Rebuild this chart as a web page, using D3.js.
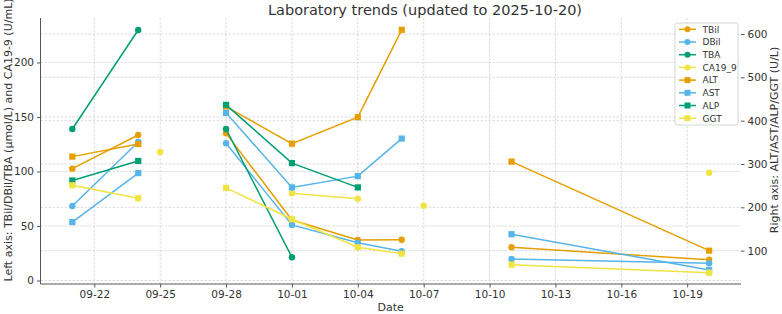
<!DOCTYPE html>
<html><head><meta charset="utf-8">
<script src="https://cdn.jsdelivr.net/npm/d3@7"></script>
<style>body{margin:0;background:#fff}svg{display:block;font-family:"DejaVu Sans",sans-serif}</style>
</head><body><svg id="c" width="782" height="314"></svg>
<script>
const dates = ["2025-09-21","2025-09-24","2025-09-25","2025-09-28","2025-10-01","2025-10-04","2025-10-06","2025-10-07","2025-10-11","2025-10-20"];
const TBil   = [102.6, 133.5, null, 135, 55.5, 37.2, 37.4, null, 30.5, 19];
const DBil   = [68.3, 127, null, 125.9, 51, 34.7, 26.9, null, 19.7, 15.8];
const TBA    = [139, 229.8, null, 139, 21.3, null, null, null, null, null];
const CA19_9 = [null, null, 117.9, null, 80, 75, null, 68.6, null, 98.9];
const ALT    = [317, 346, null, 432.5, 347, 408, 609.7, null, 305.5, 100];
const AST    = [166, 279, null, 418, 246, 272, 358.7, null, 137.8, 55.4];
const ALP    = [262, 307, null, 436.5, 302, 246, null, null, null, null];
const GGT    = [251, 221, null, 245, 172.5, 107.9, 93, null, 67.7, 49.2];
const xTickLabels = ["09-22","09-25","09-28","10-01","10-04","10-07","10-10","10-13","10-16","10-19"];
const leftTicks = [0, 50, 100, 150, 200];
const rightTicks = [100, 200, 300, 400, 500, 600];
const title = "Laboratory trends (updated to 2025-10-20)";

const colors = {orange:"#E69F00", blue:"#56B4E9", green:"#009E73", yellow:"#F0E442"};
const series = [
  {name:"TBil", vals:TBil, axis:"L", color:colors.orange, shape:"circle"},
  {name:"DBil", vals:DBil, axis:"L", color:colors.blue, shape:"circle"},
  {name:"TBA", vals:TBA, axis:"L", color:colors.green, shape:"circle"},
  {name:"CA19_9", vals:CA19_9, axis:"L", color:colors.yellow, shape:"circle"},
  {name:"ALT", vals:ALT, axis:"R", color:colors.orange, shape:"square"},
  {name:"AST", vals:AST, axis:"R", color:colors.blue, shape:"square"},
  {name:"ALP", vals:ALP, axis:"R", color:colors.green, shape:"square"},
  {name:"GGT", vals:GGT, axis:"R", color:colors.yellow, shape:"square"}
];

const parse = d3.utcParse("%Y-%m-%d");
const D = dates.map(parse);
const day = 86400000;
const L = 40.5, R = 741, T = 18, B = 284;
const x = d3.scaleUtc().domain([new Date(+D[0] - 1.45*day), new Date(+D[D.length-1] + 1.45*day)]).range([L, R]);
const yL = d3.scaleLinear().domain([-3.2, 240.8]).range([B, T]);
const yR = d3.scaleLinear().domain([23, 637]).range([B, T]);
const xTicks = xTickLabels.map(s => parse("2025-" + s));

const svg = d3.select("#c");
const txt = "#333";

// grid
const g = svg.append("g");
const gridStyle = sel => sel.attr("stroke", "#d2d2d2").attr("stroke-width", 0.8).attr("stroke-dasharray", "2.5,1.5");
g.selectAll(".vg").data(xTicks).join("line").attr("x1", d=>x(d)).attr("x2", d=>x(d)).attr("y1", T).attr("y2", B).call(gridStyle);
g.selectAll(".hl").data(leftTicks).join("line").attr("x1", L).attr("x2", R).attr("y1", d=>yL(d)).attr("y2", d=>yL(d)).call(gridStyle);
g.selectAll(".hr").data(rightTicks).join("line").attr("x1", L).attr("x2", R).attr("y1", d=>yR(d)).attr("y2", d=>yR(d)).call(gridStyle);

// axes
const fmtX = d3.utcFormat("%m-%d");
const ax = svg.append("g").attr("transform", `translate(0,${B})`)
  .call(d3.axisBottom(x).tickValues(xTicks).tickFormat(fmtX).tickSize(3.5).tickPadding(3));
const ay = svg.append("g").attr("transform", `translate(${L},0)`)
  .call(d3.axisLeft(yL).tickValues(leftTicks).tickSize(3.5).tickPadding(3));
const ar = svg.append("g").attr("transform", `translate(${R},0)`)
  .call(d3.axisRight(yR).tickValues(rightTicks).tickSize(3.5).tickPadding(3));
[ax, ay, ar].forEach(a => {
  a.selectAll("text").attr("font-size", 10.5).attr("fill", txt).attr("font-family", "DejaVu Sans");
  a.selectAll("line").attr("stroke", "#555");
  a.select(".domain").attr("stroke", "#555");
});
ax.select(".domain").attr("d", `M${L},0H${R}`);
ay.select(".domain").attr("d", `M0,${T}V${B}`);
ar.select(".domain").remove();

// series
function drawSeries(s) {
  const y = s.axis === "L" ? yL : yR;
  const pts = s.vals.map((v, i) => ({d: D[i], v}));
  const line = d3.line().defined(p => p.v != null).x(p => x(p.d)).y(p => y(p.v));
  const gs = svg.append("g");
  gs.append("path").datum(pts).attr("d", line).attr("fill", "none").attr("stroke", s.color).attr("stroke-width", 1.5);
  const pv = pts.filter(p => p.v != null);
  if (s.shape === "circle") {
    gs.selectAll("circle").data(pv).join("circle").attr("cx", p=>x(p.d)).attr("cy", p=>y(p.v)).attr("r", 3.2).attr("fill", s.color);
  } else {
    gs.selectAll("rect").data(pv).join("rect").attr("x", p=>x(p.d)-3.1).attr("y", p=>y(p.v)-3.1).attr("width", 6.2).attr("height", 6.2).attr("fill", s.color);
  }
}
series.forEach(drawSeries);

// title & labels
svg.append("text").attr("x", 425).attr("y", 14.5).attr("text-anchor", "middle").attr("font-size", 14.5).attr("fill", txt).text(title);
svg.append("text").attr("x", (L+R)/2).attr("y", 311).attr("text-anchor", "middle").attr("font-size", 11).attr("fill", txt).text("Date");
svg.append("text").attr("transform", `translate(12,140) rotate(-90)`).attr("text-anchor", "middle").attr("font-size", 11).attr("fill", txt)
  .text("Left axis: TBil/DBil/TBA (µmol/L) and CA19-9 (U/mL)");
svg.append("text").attr("transform", `translate(777.5,140) rotate(-90)`).attr("text-anchor", "middle").attr("font-size", 11).attr("fill", txt)
  .text("Right axis: ALT/AST/ALP/GGT (U/L)");

// legend
const lg = svg.append("g");
lg.append("rect").attr("x", 675).attr("y", 23).attr("width", 63).attr("height", 102).attr("rx", 2)
  .attr("fill", "#fff").attr("fill-opacity", 0.85).attr("stroke", "#ccc").attr("stroke-width", 0.8);
series.forEach((s, i) => {
  const yy = 29.3 + i*12.7;
  lg.append("line").attr("x1", 679).attr("x2", 696).attr("y1", yy).attr("y2", yy).attr("stroke", s.color).attr("stroke-width", 1.5);
  if (s.shape === "circle") lg.append("circle").attr("cx", 687.5).attr("cy", yy).attr("r", 3).attr("fill", s.color);
  else lg.append("rect").attr("x", 684.5).attr("y", yy-3).attr("width", 6).attr("height", 6).attr("fill", s.color);
  lg.append("text").attr("x", 702.5).attr("y", yy+3.3).attr("font-size", 9).attr("fill", txt).text(s.name);
});
</script></body></html>
